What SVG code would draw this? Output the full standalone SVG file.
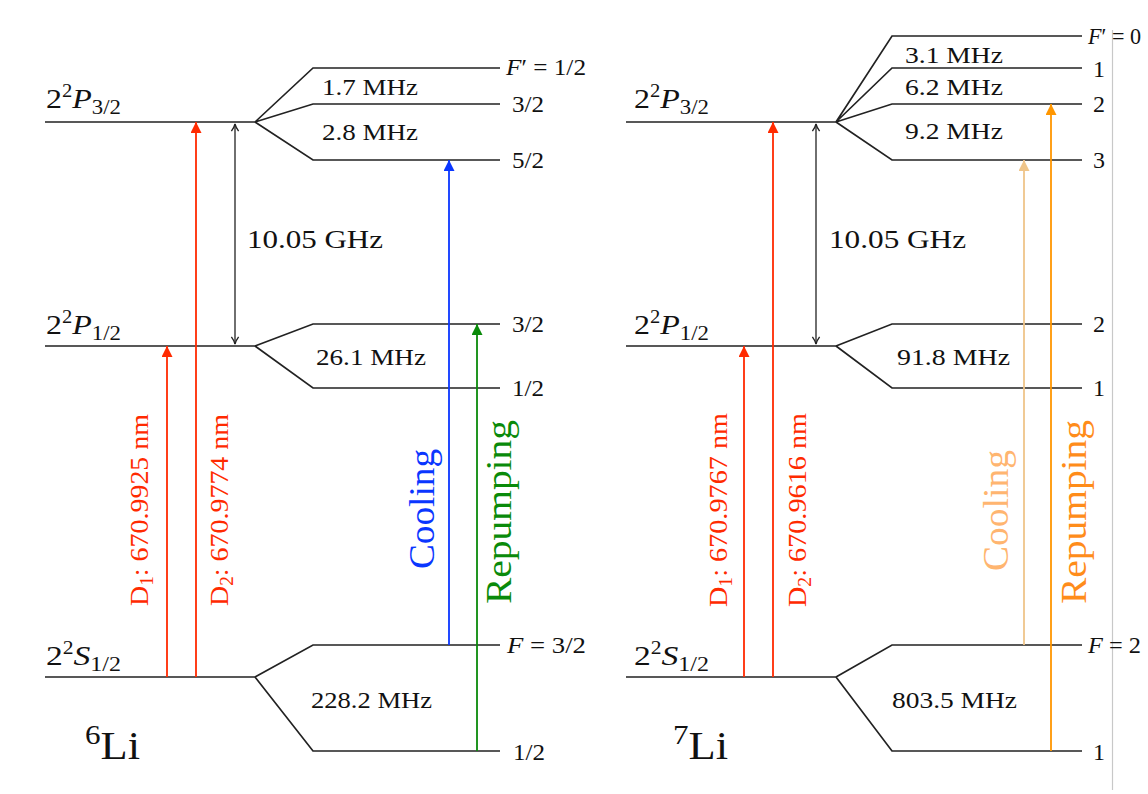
<svg xmlns="http://www.w3.org/2000/svg" width="1148" height="794" viewBox="0 0 1148 794">
<defs>
<style>
.lvl{fill:none;stroke:#222;stroke-width:1.7}
.t{font-family:"Liberation Serif","DejaVu Serif",serif;fill:#111}
.mhz{font-size:24px}
.fl{font-size:24px}
.lab{font-size:28px}
.rot{font-size:26px}
.big{font-size:36px}
.frame{stroke:#c8c8c8;stroke-width:1.2;fill:none}
</style>
<marker id="hRed" viewBox="0 0 10 10" refX="10" refY="5" markerWidth="12" markerHeight="11" markerUnits="userSpaceOnUse" orient="auto"><path d="M0,0 L10,5 L0,10 z" fill="#ff2a00"/></marker>
<marker id="hBlue" viewBox="0 0 10 10" refX="10" refY="5" markerWidth="12" markerHeight="11" markerUnits="userSpaceOnUse" orient="auto"><path d="M0,0 L10,5 L0,10 z" fill="#0a36ff"/></marker>
<marker id="hGreen" viewBox="0 0 10 10" refX="10" refY="5" markerWidth="12" markerHeight="11" markerUnits="userSpaceOnUse" orient="auto"><path d="M0,0 L10,5 L0,10 z" fill="#0a8a0a"/></marker>
<marker id="hLt" viewBox="0 0 10 10" refX="10" refY="5" markerWidth="12" markerHeight="11" markerUnits="userSpaceOnUse" orient="auto"><path d="M0,0 L10,5 L0,10 z" fill="#efc58a"/></marker>
<marker id="hOr" viewBox="0 0 10 10" refX="10" refY="5" markerWidth="12" markerHeight="11" markerUnits="userSpaceOnUse" orient="auto"><path d="M0,0 L10,5 L0,10 z" fill="#ff9600"/></marker>
<marker id="hBlk" viewBox="0 0 10 10" refX="9" refY="5" markerWidth="9" markerHeight="10" markerUnits="userSpaceOnUse" orient="auto-start-reverse"><path d="M1,1 Q5,4 9,5 Q5,6 1,9" fill="none" stroke="#222" stroke-width="1.5"/></marker>
</defs>
<rect width="1148" height="794" fill="#fff"/>
<line class="frame" x1="1112.5" y1="30" x2="1112.5" y2="790"/>

<!-- 6Li -->
<g id="li6-P32">
<path class="lvl" d="M45,122 H255 M255,122 L313,68 H500 M255,122 L313,104 H500 M255,122 L313,160 H500"/>
<text class="t lab" x="46" y="108" textLength="75" lengthAdjust="spacingAndGlyphs">2<tspan dy="-11" font-size="18">2</tspan><tspan dy="11" font-style="italic">P</tspan><tspan dy="6" font-size="20">3/2</tspan></text>
<text class="t fl" x="506" y="75" textLength="80" lengthAdjust="spacingAndGlyphs"><tspan font-style="italic">F</tspan>′ = 1/2</text>
<text class="t fl" x="512" y="112" textLength="32" lengthAdjust="spacingAndGlyphs">3/2</text>
<text class="t fl" x="512" y="168" textLength="32" lengthAdjust="spacingAndGlyphs">5/2</text>
<text class="t mhz" x="322" y="95" textLength="96" lengthAdjust="spacingAndGlyphs">1.7 MHz</text>
<text class="t mhz" x="322" y="140" textLength="96" lengthAdjust="spacingAndGlyphs">2.8 MHz</text>
</g>
<g id="li6-P12">
<path class="lvl" d="M45,346 H255 M255,346 L313,324 H500 M255,346 L313,388 H500"/>
<text class="t lab" x="46" y="334" textLength="75" lengthAdjust="spacingAndGlyphs">2<tspan dy="-11" font-size="18">2</tspan><tspan dy="11" font-style="italic">P</tspan><tspan dy="6" font-size="20">1/2</tspan></text>
<text class="t fl" x="512" y="332" textLength="32" lengthAdjust="spacingAndGlyphs">3/2</text>
<text class="t fl" x="512" y="396" textLength="32" lengthAdjust="spacingAndGlyphs">1/2</text>
<text class="t mhz" x="316" y="365" textLength="110" lengthAdjust="spacingAndGlyphs">26.1 MHz</text>
</g>
<g id="li6-S12">
<path class="lvl" d="M45,677 H255 M255,677 L313,645 H500 M255,677 L313,751 H500"/>
<text class="t lab" x="46" y="665" textLength="75" lengthAdjust="spacingAndGlyphs">2<tspan dy="-11" font-size="18">2</tspan><tspan dy="11" font-style="italic">S</tspan><tspan dy="6" font-size="20">1/2</tspan></text>
<text class="t fl" x="507" y="653" textLength="79" lengthAdjust="spacingAndGlyphs"><tspan font-style="italic">F</tspan> = 3/2</text>
<text class="t fl" x="513" y="760" textLength="32" lengthAdjust="spacingAndGlyphs">1/2</text>
<text class="t mhz" x="311" y="708" textLength="121" lengthAdjust="spacingAndGlyphs">228.2 MHz</text>
</g>
<g id="li6-name">
<text class="t" x="85" y="759" font-size="40" textLength="55" lengthAdjust="spacingAndGlyphs"><tspan font-size="28" dy="-15">6</tspan><tspan dy="15">Li</tspan></text>
</g>
<g id="li6-gap">
<text class="t" x="247" y="248" font-size="26" textLength="136" lengthAdjust="spacingAndGlyphs">10.05 GHz</text>
</g>

<!-- 7Li -->
<g id="li7-P32">
<path class="lvl" d="M626,122 H836 M836,122 L892,36 H1082 M836,122 L892,68 H1082 M836,122 L892,104 H1082 M836,122 L892,160 H1082"/>
<text class="t lab" x="634" y="108" textLength="75" lengthAdjust="spacingAndGlyphs">2<tspan dy="-11" font-size="18">2</tspan><tspan dy="11" font-style="italic">P</tspan><tspan dy="6" font-size="20">3/2</tspan></text>
<text class="t fl" x="1088" y="44" textLength="53" lengthAdjust="spacingAndGlyphs"><tspan font-style="italic">F</tspan>′ = 0</text>
<text class="t fl" x="1093" y="77">1</text>
<text class="t fl" x="1093" y="112">2</text>
<text class="t fl" x="1093" y="168">3</text>
<text class="t mhz" x="905" y="63" textLength="98" lengthAdjust="spacingAndGlyphs">3.1 MHz</text>
<text class="t mhz" x="905" y="95" textLength="98" lengthAdjust="spacingAndGlyphs">6.2 MHz</text>
<text class="t mhz" x="905" y="139" textLength="98" lengthAdjust="spacingAndGlyphs">9.2 MHz</text>
</g>
<g id="li7-P12">
<path class="lvl" d="M626,346 H836 M836,346 L892,324 H1082 M836,346 L892,388 H1082"/>
<text class="t lab" x="634" y="334" textLength="75" lengthAdjust="spacingAndGlyphs">2<tspan dy="-11" font-size="18">2</tspan><tspan dy="11" font-style="italic">P</tspan><tspan dy="6" font-size="20">1/2</tspan></text>
<text class="t fl" x="1093" y="332">2</text>
<text class="t fl" x="1093" y="396">1</text>
<text class="t mhz" x="897" y="365" textLength="113" lengthAdjust="spacingAndGlyphs">91.8 MHz</text>
</g>
<g id="li7-S12">
<path class="lvl" d="M626,677 H836 M836,677 L892,645 H1082 M836,677 L892,751 H1082"/>
<text class="t lab" x="634" y="665" textLength="75" lengthAdjust="spacingAndGlyphs">2<tspan dy="-11" font-size="18">2</tspan><tspan dy="11" font-style="italic">S</tspan><tspan dy="6" font-size="20">1/2</tspan></text>
<text class="t fl" x="1088" y="653" textLength="53" lengthAdjust="spacingAndGlyphs"><tspan font-style="italic">F</tspan> = 2</text>
<text class="t fl" x="1093" y="760">1</text>
<text class="t mhz" x="892" y="708" textLength="125" lengthAdjust="spacingAndGlyphs">803.5 MHz</text>
</g>
<g id="li7-name">
<text class="t" x="673" y="759" font-size="40" textLength="55" lengthAdjust="spacingAndGlyphs"><tspan font-size="28" dy="-15">7</tspan><tspan dy="15">Li</tspan></text>
</g>
<g id="li7-gap">
<text class="t" x="829" y="248" font-size="26" textLength="137" lengthAdjust="spacingAndGlyphs">10.05 GHz</text>
</g>

<!-- connectors -->
<g id="connectors" fill="none" stroke-width="1.8">
<line x1="235" y1="124" x2="235" y2="344" stroke="#222" stroke-width="1.3" marker-start="url(#hBlk)" marker-end="url(#hBlk)"/>
<line x1="167" y1="677" x2="167" y2="346" stroke="#ff2a00" marker-end="url(#hRed)"/>
<line x1="196" y1="677" x2="196" y2="122" stroke="#ff2a00" marker-end="url(#hRed)"/>
<line x1="449" y1="645" x2="449" y2="160" stroke="#0a36ff" marker-end="url(#hBlue)"/>
<line x1="477" y1="751" x2="477" y2="324" stroke="#0a8a0a" marker-end="url(#hGreen)"/>

<line x1="816" y1="124" x2="816" y2="344" stroke="#222" stroke-width="1.3" marker-start="url(#hBlk)" marker-end="url(#hBlk)"/>
<line x1="744" y1="677" x2="744" y2="346" stroke="#ff2a00" marker-end="url(#hRed)"/>
<line x1="773" y1="677" x2="773" y2="122" stroke="#ff2a00" marker-end="url(#hRed)"/>
<line x1="1024" y1="645" x2="1024" y2="160" stroke="#efc58a" marker-end="url(#hLt)"/>
<line x1="1051" y1="751" x2="1051" y2="104" stroke="#ff9600" marker-end="url(#hOr)"/>
</g>

<!-- transition labels -->
<g id="labels-li6">
<text class="t rot" style="fill:#ff2a00" transform="translate(148,606) rotate(-90)" textLength="192" lengthAdjust="spacingAndGlyphs">D<tspan font-size="18" dy="5">1</tspan><tspan dy="-5">: 670.9925 nm</tspan></text>
<text class="t rot" style="fill:#ff2a00" transform="translate(228,606) rotate(-90)" textLength="192" lengthAdjust="spacingAndGlyphs">D<tspan font-size="18" dy="5">2</tspan><tspan dy="-5">: 670.9774 nm</tspan></text>
<text class="t big" style="fill:#0a36ff" transform="translate(434,569) rotate(-90)" textLength="120" lengthAdjust="spacingAndGlyphs">Cooling</text>
<text class="t big" style="fill:#0a8a0a" transform="translate(511,604) rotate(-90)" textLength="184" lengthAdjust="spacingAndGlyphs">Repumping</text>
</g>
<g id="labels-li7">
<text class="t rot" style="fill:#ff2a00" transform="translate(727,607) rotate(-90)" textLength="194" lengthAdjust="spacingAndGlyphs">D<tspan font-size="18" dy="5">1</tspan><tspan dy="-5">: 670.9767 nm</tspan></text>
<text class="t rot" style="fill:#ff2a00" transform="translate(806,607) rotate(-90)" textLength="194" lengthAdjust="spacingAndGlyphs">D<tspan font-size="18" dy="5">2</tspan><tspan dy="-5">: 670.9616 nm</tspan></text>
<text class="t big" style="fill:#ffb570" transform="translate(1008,571) rotate(-90)" textLength="121" lengthAdjust="spacingAndGlyphs">Cooling</text>
<text class="t big" style="fill:#ff8c1a" transform="translate(1086,604) rotate(-90)" textLength="184" lengthAdjust="spacingAndGlyphs">Repumping</text>
</g>
</svg>
